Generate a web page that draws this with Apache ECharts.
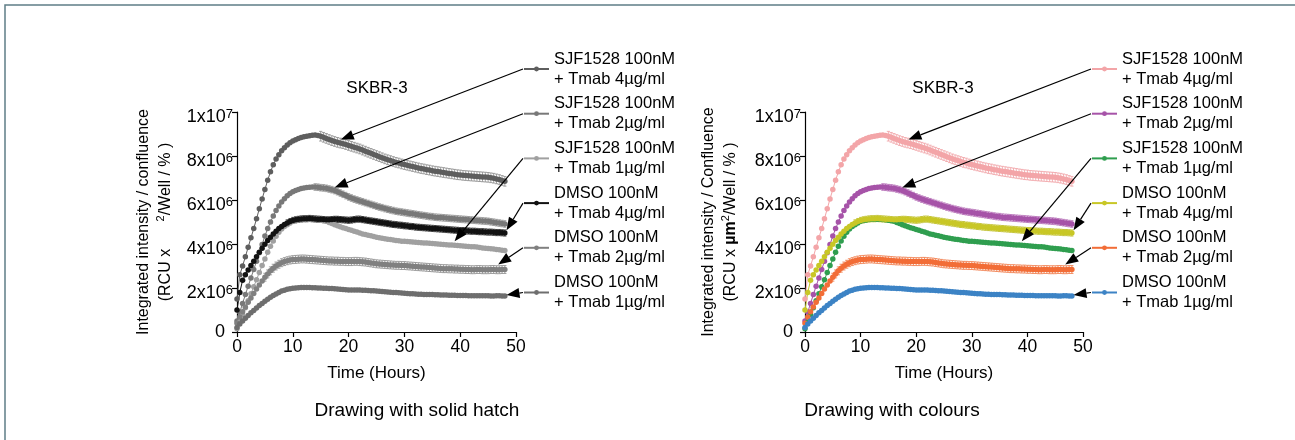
<!DOCTYPE html>
<html><head><meta charset="utf-8">
<script src="https://cdn.jsdelivr.net/npm/echarts@6/dist/echarts.min.js"></script>
<style>html,body{margin:0;padding:0;background:#fff}#c{width:1295px;height:440px}</style>
</head><body><div id="c"></div>
<script>
// Sample times (hours)
const hours = [
 0,0.5,1,1.5,2,2.5,3,3.5,4,4.5,
 5,5.5,6,6.5,7,7.5,8,8.5,9,9.5,
 10,10.5,11,11.5,12,12.5,13,13.5,14,14.5,
 15,15.5,16,16.5,17,17.5,18,18.5,19,19.5,
 20,20.5,21,21.5,22,22.5,23,23.5,24,24.5,
 25,25.5,26,26.5,27,27.5,28,28.5,29,29.5,
 30,30.5,31,31.5,32,32.5,33,33.5,34,34.5,
 35,35.5,36,36.5,37,37.5,38,38.5,39,39.5,
 40,40.5,41,41.5,42,42.5,43,43.5,44,44.5,
 45,45.5,46,46.5,47,47.5,48];
// Values in units of 1x10^6
const sjf4 = [
 1.50,2.60,3.00,3.42,3.85,4.28,4.70,5.15,5.60,6.05,
 6.48,6.90,7.28,7.60,7.86,8.06,8.24,8.38,8.50,8.60,
 8.68,8.74,8.80,8.84,8.88,8.90,8.92,8.94,8.95,8.93,
 8.90,8.85,8.80,8.75,8.70,8.66,8.62,8.59,8.56,8.52,
 8.48,8.44,8.40,8.36,8.32,8.27,8.22,8.17,8.12,8.07,
 8.02,7.97,7.92,7.87,7.83,7.79,7.75,7.71,7.68,7.64,
 7.61,7.58,7.55,7.52,7.49,7.46,7.43,7.41,7.38,7.36,
 7.33,7.31,7.29,7.27,7.25,7.23,7.21,7.19,7.17,7.15,
 7.14,7.12,7.11,7.10,7.09,7.08,7.07,7.06,7.05,7.04,
 7.03,7.01,6.99,6.96,6.93,6.89,6.85];
const sjf2 = [
 0.50,0.90,1.30,1.70,2.08,2.46,2.84,3.22,3.60,3.98,
 4.36,4.70,5.00,5.27,5.52,5.73,5.91,6.06,6.19,6.29,
 6.37,6.43,6.48,6.52,6.55,6.57,6.58,6.59,6.59,6.58,
 6.56,6.55,6.53,6.50,6.47,6.43,6.38,6.32,6.26,6.20,
 6.14,6.09,6.04,6.00,5.96,5.92,5.88,5.84,5.80,5.76,
 5.72,5.68,5.65,5.61,5.58,5.55,5.52,5.49,5.47,5.45,
 5.43,5.41,5.39,5.37,5.35,5.33,5.31,5.29,5.27,5.25,
 5.24,5.22,5.21,5.20,5.19,5.18,5.17,5.16,5.15,5.14,
 5.13,5.12,5.11,5.10,5.09,5.08,5.07,5.06,5.05,5.04,
 5.03,5.01,4.99,4.97,4.95,4.93,4.91];
const sjf1 = [
 0.15,0.45,0.78,1.10,1.42,1.74,2.06,2.38,2.70,3.02,
 3.32,3.62,3.90,4.14,4.35,4.53,4.68,4.80,4.88,4.95,
 5.03,5.07,5.09,5.11,5.12,5.12,5.13,5.12,5.11,5.10,
 5.08,5.06,5.03,4.98,4.93,4.88,4.83,4.78,4.74,4.70,
 4.66,4.62,4.58,4.54,4.50,4.46,4.43,4.40,4.37,4.34,
 4.31,4.28,4.26,4.24,4.22,4.20,4.18,4.16,4.15,4.13,
 4.12,4.11,4.10,4.09,4.08,4.07,4.06,4.05,4.04,4.03,
 4.02,4.01,4.00,3.99,3.98,3.97,3.96,3.95,3.94,3.93,
 3.92,3.91,3.90,3.89,3.88,3.87,3.86,3.84,3.82,3.81,
 3.80,3.78,3.77,3.75,3.74,3.72,3.70];
const dmso4 = [
 1.00,1.80,2.35,2.60,2.82,3.02,3.22,3.42,3.62,3.81,
 3.99,4.16,4.31,4.45,4.58,4.70,4.80,4.89,4.96,5.02,
 5.07,5.10,5.12,5.14,5.15,5.15,5.16,5.15,5.14,5.13,
 5.12,5.11,5.10,5.10,5.11,5.12,5.12,5.11,5.10,5.09,
 5.08,5.09,5.11,5.13,5.13,5.11,5.09,5.07,5.05,5.03,
 5.01,4.99,4.97,4.95,4.93,4.91,4.89,4.88,4.86,4.85,
 4.83,4.82,4.80,4.79,4.77,4.76,4.75,4.74,4.73,4.72,
 4.71,4.70,4.69,4.68,4.67,4.66,4.65,4.64,4.63,4.62,
 4.61,4.61,4.60,4.59,4.58,4.58,4.57,4.56,4.56,4.55,
 4.54,4.54,4.53,4.52,4.52,4.51,4.50];
const dmso2 = [
 0.40,0.68,0.92,1.14,1.35,1.55,1.75,1.95,2.14,2.32,
 2.49,2.64,2.78,2.90,3.00,3.08,3.15,3.20,3.24,3.27,
 3.29,3.30,3.31,3.32,3.32,3.31,3.30,3.29,3.28,3.27,
 3.26,3.25,3.24,3.23,3.23,3.22,3.22,3.21,3.21,3.20,
 3.20,3.20,3.21,3.21,3.20,3.19,3.18,3.16,3.14,3.12,
 3.10,3.09,3.08,3.07,3.06,3.05,3.04,3.03,3.03,3.02,
 3.02,3.01,3.00,2.99,2.98,2.97,2.96,2.95,2.94,2.93,
 2.92,2.91,2.90,2.89,2.88,2.88,2.87,2.87,2.86,2.86,
 2.85,2.85,2.84,2.84,2.83,2.83,2.84,2.84,2.83,2.83,
 2.83,2.84,2.84,2.83,2.83,2.84,2.84];
const dmso1 = [
 0.20,0.36,0.50,0.63,0.75,0.87,0.98,1.09,1.20,1.30,
 1.40,1.49,1.58,1.66,1.73,1.80,1.86,1.90,1.94,1.97,
 1.99,2.00,2.01,2.02,2.02,2.02,2.02,2.01,2.01,2.00,
 2.00,1.99,1.99,1.98,1.98,1.97,1.96,1.94,1.93,1.92,
 1.91,1.91,1.91,1.91,1.91,1.90,1.90,1.89,1.88,1.87,
 1.86,1.85,1.84,1.83,1.82,1.81,1.80,1.79,1.78,1.77,
 1.76,1.75,1.74,1.74,1.73,1.72,1.72,1.71,1.71,1.70,
 1.70,1.69,1.69,1.68,1.68,1.68,1.67,1.67,1.67,1.66,
 1.66,1.66,1.66,1.65,1.65,1.65,1.65,1.65,1.65,1.65,
 1.65,1.64,1.64,1.65,1.65,1.64,1.64];
// Typical error (SD, x10^6) per series and hour from which bars are drawn
const errSD   = [0.22, 0.15, 0, 0.14, 0.18, 0];
const errFrom = [15, 14, 48, 9, 5, 48];
const groupLabels = ['SJF1528 100nM','SJF1528 100nM','SJF1528 100nM','DMSO 100nM','DMSO 100nM','DMSO 100nM'];
const doseLabels  = ['+ Tmab 4µg/ml','+ Tmab 2µg/ml','+ Tmab 1µg/ml','+ Tmab 4µg/ml','+ Tmab 2µg/ml','+ Tmab 1µg/ml'];
// Arrow targets [hours, value x10^6]
const arrowTargets = [[18.6,8.75],[17.5,6.57],[39.0,4.13],[48.3,4.62],[46.8,3.07],[48.3,1.68]];

const values = [sjf4, sjf2, sjf1, dmso4, dmso2, dmso1];
const FONT = 'Liberation Sans, Arial, Helvetica, sans-serif';

const panels = [
  {key:'L', gridLeft:237, gridWidth:279, legendLeft:523, titleX:377, nameX:155, capX:417,
   caption:'Drawing with solid hatch', yName:'Integrated intensity / confluence\n(RCU x {gap| }{sup|2}/Well / % )',
   colors:['#5e5e5e','#787878','#a0a0a0','#121212','#808080','#6e6e6e'],
   errColors:['#8a8a8a','#8e8e8e','#a0a0a0','#2a2a2a','#8c8c8c','#6e6e6e']},
  {key:'R', gridLeft:805, gridWidth:278, legendLeft:1091, titleX:943, nameX:720, capX:892,
   caption:'Drawing with colours', yName:'Integrated intensity / Confluence\n(RCU x {mu|µm}{sup|2}/Well / % )',
   colors:['#f3a5a8','#a653a8','#2f9e4f','#c8c726','#f26d37','#3c83c5'],
   errColors:['#f0a0a3','#b368b4','#2f9e4f','#bdbc22','#f07a47','#3c83c5']}
];

function renderErr(params, api){
  const x = api.value(0), lo = api.value(1), hi = api.value(2);
  const a = api.coord([x, lo]), b = api.coord([x, hi]);
  const w = 1.6;
  const st = {stroke: api.visual('color'), lineWidth: 0.8};
  return {type:'group', children:[
    {type:'line', shape:{x1:a[0],y1:a[1],x2:b[0],y2:b[1]}, style:st},
    {type:'line', shape:{x1:a[0]-w,y1:a[1],x2:a[0]+w,y2:a[1]}, style:st},
    {type:'line', shape:{x1:b[0]-w,y1:b[1],x2:b[0]+w,y2:b[1]}, style:st}
  ]};
}

const series = [];
panels.forEach((p,k)=>{
  values.forEach((vals,i)=>{
    if (errSD[i] > 0) {
      const ed = [];
      hours.forEach((h,j)=>{ if (h >= errFrom[i]) ed.push([h,(vals[j]-errSD[i])*1e6,(vals[j]+errSD[i])*1e6]); });
      series.push({type:'custom', xAxisIndex:k, yAxisIndex:k, renderItem:renderErr, data:ed,
        encode:{x:0, y:[1,2]}, itemStyle:{color:p.errColors[i]}, silent:true, z:2});
    }
    series.push({type:'line', name:p.key+'|'+i, xAxisIndex:k, yAxisIndex:k,
      data: hours.map((h,j)=>[h, vals[j]*1e6]),
      symbol:'circle', symbolSize:5.5, showSymbol:true, showAllSymbol:true,
      lineStyle:{width:1, color:p.colors[i]}, itemStyle:{color:p.colors[i]},
      emphasis:{disabled:true}, z:2});
  });
});

const yLabel = {
  color:'#000', margin:4, fontFamily:FONT,
  formatter: v => {
    if (v === 0) return '{z|0}';
    const e = Math.floor(Math.log10(v) + 1e-9);
    const m = Math.round(v / Math.pow(10, e));
    return '{b|' + m + 'x10}{s|' + e + '}';
  },
  rich:{
    b:{fontSize:18, lineHeight:18, padding:[10,0,0,0], color:'#000', fontFamily:FONT},
    s:{fontSize:13, lineHeight:13, padding:[5,0,0,0], verticalAlign:'top', color:'#000', fontFamily:FONT},
    z:{fontSize:18, padding:[0,8,0,0], color:'#000', fontFamily:FONT}
  }
};

const option = {
  animation:false,
  backgroundColor:'#fff',
  textStyle:{fontFamily:FONT},
  title: panels.map(p=>({text:'SKBR-3', left:p.titleX, top:80, textAlign:'center', padding:0,
      textStyle:{fontSize:17, fontWeight:'normal', color:'#000', fontFamily:FONT}}))
    .concat(panels.map(p=>({text:p.caption, left:p.capX, top:401, textAlign:'center', padding:0,
      textStyle:{fontSize:19, fontWeight:'normal', color:'#000', fontFamily:FONT}}))),
  grid: panels.map(p=>({left:p.gridLeft, top:112, width:p.gridWidth, height:220})),
  xAxis: panels.map((p,k)=>({type:'value', gridIndex:k, min:0, max:50, interval:10,
    axisLine:{show:true, onZero:false, lineStyle:{color:'#000', width:1.2}},
    axisTick:{show:true, length:5, lineStyle:{color:'#000', width:1.2}},
    axisLabel:{fontSize:17.5, color:'#000', margin:6, fontFamily:FONT},
    splitLine:{show:false},
    name:'Time (Hours)', nameLocation:'middle', nameGap:33,
    nameTextStyle:{fontSize:17, color:'#000', fontFamily:FONT}})),
  yAxis: panels.map((p,k)=>({type:'value', gridIndex:k, min:0, max:1e7, interval:2e6,
    axisLine:{show:true, onZero:false, lineStyle:{color:'#000', width:1.2}},
    axisTick:{show:true, length:5, lineStyle:{color:'#000', width:1.2}},
    axisLabel:yLabel, splitLine:{show:false}})),
  legend: panels.map(p=>({
    left:p.legendLeft, top:49, orient:'vertical', padding:0,
    itemWidth:25, itemHeight:6, itemGap:4.7, selectedMode:false,
    data: values.map((_,i)=>p.key+'|'+i),
    formatter: name => { const i = +name.split('|')[1]; return groupLabels[i] + '\n' + doseLabels[i]; },
    textStyle:{fontSize:16.5, lineHeight:20, color:'#000', fontFamily:FONT}
  })),
  graphic: [
    {type:'rect', id:'frame', shape:{x:5, y:5, width:1320, height:470},
     style:{fill:'none', stroke:'#5f7e86', lineWidth:1.5}, z:0, silent:true}
  ].concat(panels.map((p,k)=>({
    type:'text', id:'yname'+k, x:p.nameX, y:222, rotation:Math.PI/2, z:10,
    style:{text:p.yName, align:'center', verticalAlign:'middle', fontSize:16, lineHeight:22,
      fill:'#000', fontFamily:FONT,
      rich:{
        gap:{width:23, fontSize:16, lineHeight:22},
        mu:{fontSize:16, fontWeight:'bold', lineHeight:22, fill:'#000', fontFamily:FONT},
        sup:{fontSize:11, lineHeight:11, verticalAlign:'top', fill:'#000', fontFamily:FONT}
      }}
  }))),
  series
};

const chart = echarts.init(document.getElementById('c'), null, {renderer:'canvas'});
chart.setOption(option);

// Arrows from legend entries to curves
function arrow(id, s, t){
  const dx = t[0]-s[0], dy = t[1]-s[1], L = Math.hypot(dx,dy) || 1;
  const ux = dx/L, uy = dy/L, hl = 13, hw = 5;
  const bx = t[0]-ux*hl, by = t[1]-uy*hl;
  return [
    {type:'line', id:id+'l', z:100, silent:true, shape:{x1:s[0],y1:s[1],x2:bx,y2:by}, style:{stroke:'#000', lineWidth:1.2}},
    {type:'polygon', id:id+'h', z:100, silent:true, shape:{points:[[t[0],t[1]],[bx-uy*hw,by+ux*hw],[bx+uy*hw,by-ux*hw]]}, style:{fill:'#000'}}
  ];
}
const arrows = [];
panels.forEach((p,k)=>{
  arrowTargets.forEach((tg,i)=>{
    const tip = chart.convertToPixel({gridIndex:k}, [tg[0], tg[1]*1e6]);
    const start = [p.legendLeft, 69 + 44.7*i];
    arrows.push(...arrow('a'+k+'_'+i, start, tip));
  });
});
chart.setOption({graphic: arrows});
</script>
</body></html>
